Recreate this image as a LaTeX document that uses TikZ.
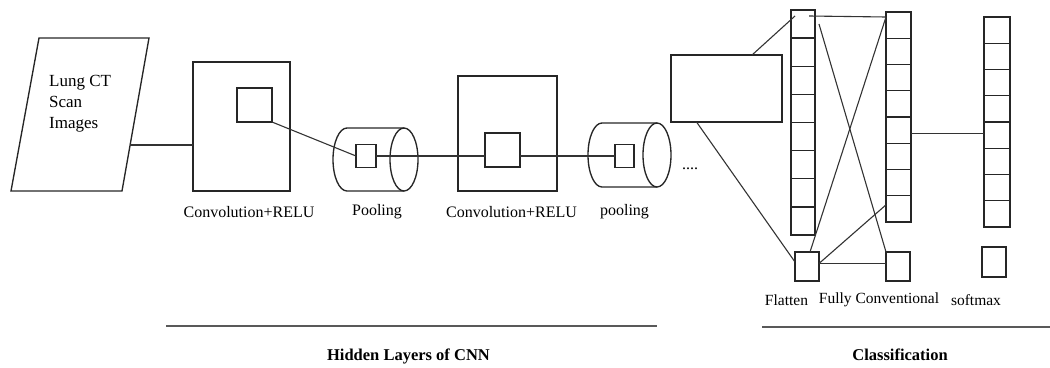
\documentclass[tikz,border=0pt]{standalone}
\usepackage{fontspec}
\setmainfont{Liberation Serif}
\usetikzlibrary{calc}
\begin{document}
\begin{tikzpicture}[x=1pt,y=-1pt,
  bx/.style={draw=black!85, line width=1.35pt, inner sep=0pt, outer sep=0pt},
  ln/.style={draw=black!80, line width=1.1pt},
  rule/.style={draw=black!65, line width=2.2pt},
  lbl/.style={font=\fontsize{16}{19}\selectfont, inner sep=0pt},
  slbl/.style={font=\fontsize{15.5}{18}\selectfont, inner sep=0pt},
  blbl/.style={font=\fontsize{16.5}{19}\selectfont\bfseries, inner sep=0pt, anchor=base}]
\useasboundingbox (0,0) rectangle (1050,367);

% input parallelogram
\draw[bx] (39,38) -- (149,38) -- (122,191) -- (11,191) -- cycle;
\node[font=\fontsize{17}{21}\selectfont, align=left, anchor=west, inner sep=0pt] (imgtxt) at (49,104) {Lung CT\\Scan\\Images};
\coordinate (imge) at (130,145);

% conv 1
\node[bx, minimum width=97pt, minimum height=129pt] (conv1) at (241.5,126.5) {};
\node[bx, minimum width=35pt, minimum height=34pt] (c1s) at (254.5,105) {};
\node[lbl] (conv1l) at (249,212) {Convolution+RELU};

% pooling 1
\draw[bx] (404,128) -- (347,128) arc[start angle=90, end angle=270, x radius=14pt, y radius=31.5pt] -- (404,191);
\draw[bx] (404,159.5) ellipse [x radius=14pt, y radius=31.5pt];
\node[bx, minimum width=20pt, minimum height=23pt, fill=white] (p1s) at (366,156) {};
\node[lbl] (pool1l) at (377,212) {Pooling};

% conv 2
\node[bx, minimum width=99pt, minimum height=115pt] (conv2) at (507.5,133.5) {};
\node[bx, minimum width=35pt, minimum height=34pt] (c2s) at (502.5,150) {};
\node[lbl] (conv2l) at (511.5,212) {Convolution+RELU};

% pooling 2
\draw[bx] (657,123) -- (602,123) arc[start angle=90, end angle=270, x radius=14pt, y radius=32pt] -- (657,187);
\draw[bx] (657,155) ellipse [x radius=14pt, y radius=32pt];
\node[bx, minimum width=19pt, minimum height=23pt, fill=white] (p2s) at (624.5,156) {};
\node[lbl] (pool2l) at (624.5,212) {pooling};

\node[lbl] (dots) at (690,169) {....};

% feature map rectangle
\node[bx, minimum width=111pt, minimum height=67pt] (r) at (726.5,88.5) {};

% flatten column
\foreach \i in {1,...,8}
  \node[bx, minimum width=24pt, minimum height=28.125pt] (f\i) at (803,{10+28.125*(\i-0.5)}) {};
\node[bx, minimum width=24pt, minimum height=29pt] (fb) at (807,266.5) {};

% fully connected column
\foreach \i in {1,...,8}
  \node[bx, minimum width=25pt, minimum height=26.25pt] (g\i) at (898.5,{12+26.25*(\i-0.5)}) {};
\node[bx, minimum width=24pt, minimum height=29pt] (gb) at (898,266.5) {};

% softmax column
\foreach \i in {1,...,8}
  \node[bx, minimum width=26pt, minimum height=26.25pt] (s\i) at (997,{17+26.25*(\i-0.5)}) {};
\node[bx, minimum width=24pt, minimum height=30pt] (sb) at (994,262) {};

% connectors
\draw[ln] (imge) -- (imge -| conv1.west);
\draw[ln] (c1s.south east) -- (p1s.west);
\draw[ln] (p1s.east) -- (p1s.east -| c2s.west);
\draw[ln] (c2s.east |- p2s.west) -- (p2s.west);

\coordinate (rt) at ($(r.north west)!0.73!(r.north east)$);
\coordinate (rb) at ($(r.south west)!0.23!(r.south east)$);
\coordinate (fa) at ($(f1.north west)+(4,6)$);
\coordinate (fa2) at ($(f1.north east)+(-6,6)$);
\coordinate (fa3) at ($(f1.east)+(4,0)$);
\coordinate (ga) at ($(g1.north west)+(0,5)$);
\coordinate (g8a) at ($(g8.west)+(0,-4)$);
\coordinate (fbw) at ($(fb.north west)+(0,10)$);
\coordinate (fbe) at ($(fb.east)+(0,-3)$);
\coordinate (fbn) at ($(fb.north)+(3,0)$);
\coordinate (g5e) at ($(g5.east)+(0,3)$);

\draw[ln] (rt) -- (fa);
\draw[ln] (rb) -- (fbw);
\draw[ln] (fa2) -- (ga);
\draw[ln] (ga) -- (fbn);
\draw[ln] (fa3) -- (gb.north west);
\draw[ln] (fbe) -- (g8a);
\draw[ln] (fbe) -- (fbe -| gb.west);
\draw[ln] (g5e) -- (g5e -| s5.west);

% labels of classification part
\node[slbl] (flatl) at (786.5,300) {Flatten};
\node[slbl] (fcl) at (879,300) {Fully Conventional};
\node[slbl] (softl) at (976,300) {softmax};

% section rules
\coordinate (h1) at (166,326);
\coordinate (h2) at (657,326);
\coordinate (k1) at (762,327);
\coordinate (k2) at (1050,327);
\draw[rule] (h1) -- (h2);
\draw[rule] (k1) -- (k2);
\node[blbl] (hidl) at ($(h1)!0.5!(h2)+(-3,34)$) {Hidden Layers of CNN};
\node[blbl] (clsl) at (900,360) {Classification};
\end{tikzpicture}
\end{document}
